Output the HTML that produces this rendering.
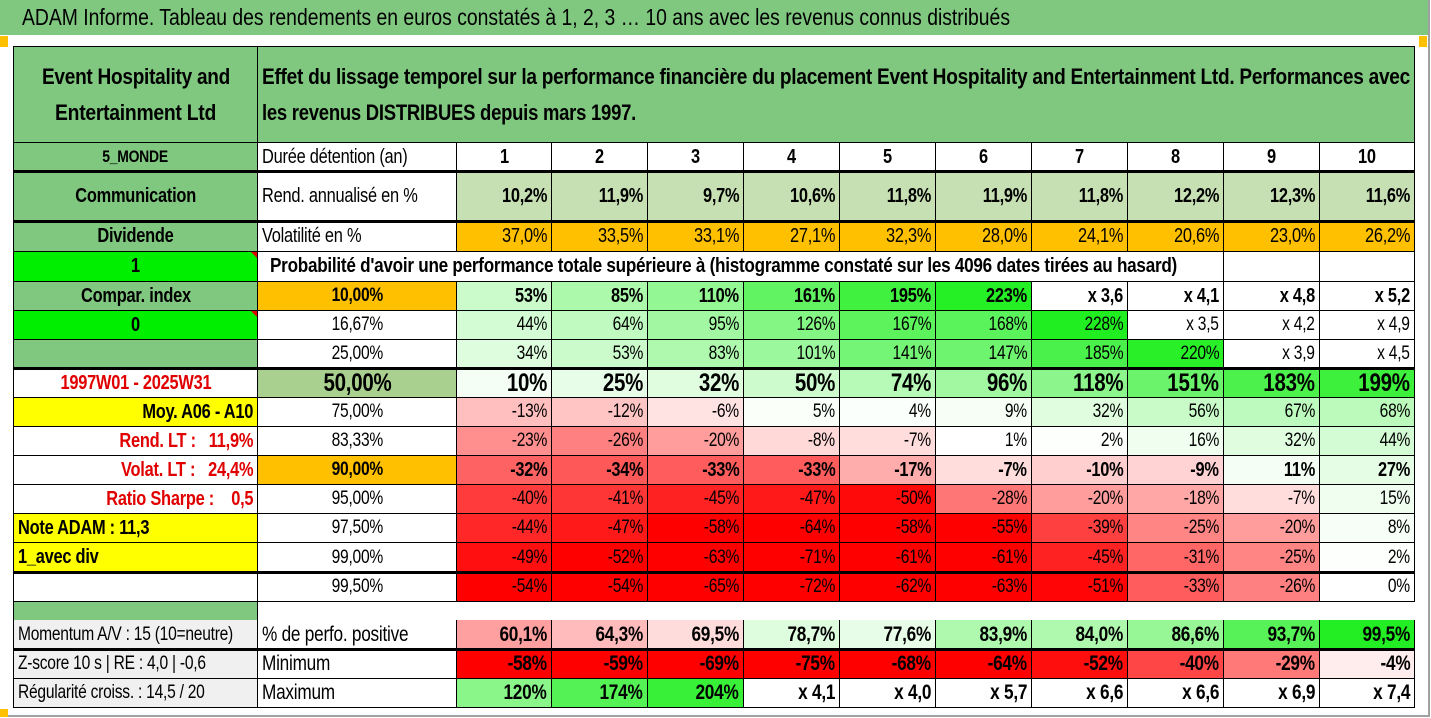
<!DOCTYPE html>
<html><head><meta charset="utf-8">
<style>
html,body{margin:0;padding:0}
body{width:1431px;height:718px;position:relative;overflow:hidden;background:#fff;font-family:"Liberation Sans",sans-serif;color:#000}
.c{position:absolute;box-sizing:border-box;border-right:1px solid #000;border-bottom:1px solid #000;display:flex;align-items:center;white-space:nowrap;overflow:hidden;font-size:18px;letter-spacing:-0.3px}
.r{justify-content:flex-end;padding-right:4px}
.m{justify-content:center}
.l{justify-content:flex-start;padding-left:4px}
.b{font-weight:bold}
.t{display:inline-block;white-space:pre;transform:scaleX(0.82)}
.r .t{transform-origin:right center}
.m .t{transform-origin:center center}
.l .t{transform-origin:left center}
.fit{display:inline-block;white-space:nowrap;transform-origin:left center}
.hl{position:absolute;background:#000}
</style></head>
<body>
<div style="position:absolute;left:0;top:0;width:1428px;height:715px;border-right:2px solid #a0a0a0;border-bottom:2px solid #a0a0a0"></div>
<div style="position:absolute;left:0;top:0;width:1428px;height:35px;background:#80c880;display:flex;align-items:center">
  <span class="fit" data-fit="988" style="margin-left:22px;font-size:23px">ADAM Informe. Tableau des rendements en euros constatés à 1, 2, 3 … 10 ans avec les revenus connus distribués</span>
</div>
<div style="position:absolute;left:0;top:36px;width:8px;height:11px;background:#ffc000"></div>
<div style="position:absolute;left:1419px;top:36px;width:8px;height:11px;background:#ffc000"></div>
<div style="position:absolute;left:0;top:709px;width:8px;height:8px;background:#ffc000"></div>

<div id="tbl"></div>

<script>
const durations = ["1","2","3","4","5","6","7","8","9","10"];
const rendAnn = ["10,2%","11,9%","9,7%","10,6%","11,8%","11,9%","11,8%","12,2%","12,3%","11,6%"];
const volat = ["37,0%","33,5%","33,1%","27,1%","32,3%","28,0%","24,1%","20,6%","23,0%","26,2%"];
const pctLabels = ["10,00%","16,67%","25,00%","50,00%","75,00%","83,33%","90,00%","95,00%","97,50%","99,00%","99,50%"];
const p10 = ["53%","85%","110%","161%","195%","223%","x 3,6","x 4,1","x 4,8","x 5,2"];
const p17 = ["44%","64%","95%","126%","167%","168%","228%","x 3,5","x 4,2","x 4,9"];
const p25 = ["34%","53%","83%","101%","141%","147%","185%","220%","x 3,9","x 4,5"];
const p50 = ["10%","25%","32%","50%","74%","96%","118%","151%","183%","199%"];
const p75 = ["-13%","-12%","-6%","5%","4%","9%","32%","56%","67%","68%"];
const p83 = ["-23%","-26%","-20%","-8%","-7%","1%","2%","16%","32%","44%"];
const p90 = ["-32%","-34%","-33%","-33%","-17%","-7%","-10%","-9%","11%","27%"];
const p95 = ["-40%","-41%","-45%","-47%","-50%","-28%","-20%","-18%","-7%","15%"];
const p975 = ["-44%","-47%","-58%","-64%","-58%","-55%","-39%","-25%","-20%","8%"];
const p99 = ["-49%","-52%","-63%","-71%","-61%","-61%","-45%","-31%","-25%","2%"];
const p995 = ["-54%","-54%","-65%","-72%","-62%","-63%","-51%","-33%","-26%","0%"];
const momentum = ["60,1%","64,3%","69,5%","78,7%","77,6%","83,9%","84,0%","86,6%","93,7%","99,5%"];
const minimum = ["-58%","-59%","-69%","-75%","-68%","-64%","-52%","-40%","-29%","-4%"];
const maximum = ["120%","174%","204%","x 4,1","x 4,0","x 5,7","x 6,6","x 6,6","x 6,9","x 7,4"];

const X = [14,258,457,552,648,744,840,936,1032,1128,1224,1320,1415];
const Y = [47,143,172,222,252,282,311,340,369,398,427,456,485,514,543,573,602,620,650,679,708];
const GREEN = "#80c880";
const T = document.getElementById('tbl');

function num(s){ if(s.indexOf('x')===0) return null; return parseFloat(s.replace('%','').replace(',','.')); }
function heat(v, redScale, greenScale){
  if(v===null) return "#ffffff";
  if(v>=0){ const t=Math.min(v/greenScale,1); const r=Math.round(255-225*t), g=Math.round(255-17*t); return `rgb(${r},${g},${r})`; }
  const t=Math.min(-v/redScale,1); const g=Math.round(255-255*t); return `rgb(255,${g},${g})`;
}
function cell(x0,x1,r0,r1,text,cls,bg,style,name){
  const d=document.createElement('div');
  d.className='c '+(cls||'');
  d.style.left=X[x0]+'px'; d.style.width=(X[x1]-X[x0])+'px';
  d.style.top=Y[r0]+'px'; d.style.height=(Y[r1]-Y[r0])+'px';
  if(bg) d.style.background=bg;
  if(style) d.style.cssText+=style;
  if(text){ const s=document.createElement('span'); s.className='t'; s.textContent=text; d.appendChild(s); }
  
  
  T.appendChild(d); return d;
}
const ob=document.createElement('div');
ob.style.cssText=`position:absolute;left:${X[0]-1}px;top:${Y[0]-1}px;width:${X[12]-X[0]+1}px;height:${Y[20]-Y[0]+1}px;border-left:1px solid #000;border-top:1px solid #000;box-sizing:border-box`;


T.appendChild(ob);

const h1=cell(0,1,0,1,'','m b',GREEN,'flex-direction:column;font-size:22px','company-name');
h1.innerHTML='<span class="fit" data-fit="188">Event Hospitality and</span><span class="fit" data-fit="161" style="margin-top:10px">Entertainment Ltd</span>';
const h2=cell(1,12,0,1,'','l b',GREEN,'flex-direction:column;align-items:flex-start;justify-content:center;font-size:22px','chart-description');
h2.innerHTML='<span class="fit" data-fit="1148">Effet du lissage temporel sur la performance financière du placement Event Hospitality and Entertainment Ltd. Performances avec</span><span class="fit" data-fit="374" style="margin-top:10px">les revenus DISTRIBUES depuis mars 1997.</span>';

const left=[
 ["5_MONDE","m b",GREEN,"font-size:17px","region-label"],
 ["Communication","m b",GREEN,"font-size:20px","sector-label"],
 ["Dividende","m b",GREEN,"font-size:20px","dividend-label"],
 ["1","m b","#00ee00","font-size:20px","dividend-flag"],
 ["Compar. index","m b",GREEN,"font-size:20px","compare-index-label"],
 ["0","m b","#00ee00","font-size:20px","compare-index-flag"],
 ["","m",GREEN,"","blank-label"],
 ["1997W01 - 2025W31","m b","#fff","color:#e00000;font-size:20px","date-range"],
 ["Moy. A06 - A10","r b","#ffff00","font-size:20px","average-label"],
 ["Rend. LT :   11,9%","r b","#fff","color:#e00000;font-size:20px","long-term-return"],
 ["Volat. LT :   24,4%","r b","#fff","color:#e00000;font-size:20px","long-term-volatility"],
 ["Ratio Sharpe :    0,5","r b","#fff","color:#e00000;font-size:20px","sharpe-ratio"],
 ["Note ADAM : 11,3","l b","#ffff00","font-size:20px","adam-score"],
 ["1_avec div","l b","#ffff00","font-size:20px","dividend-mode"],
 ["","m","#fff","","blank-label"]
];
left.forEach((a,i)=>cell(0,1,i+1,i+2,a[0],a[1],a[2],a[3],a[4]));
cell(0,1,16,17,"","m",GREEN,"border-bottom:none","spacer-label");
const spc=document.createElement('div');
spc.style.cssText=`position:absolute;left:${X[1]}px;top:${Y[16]}px;width:${X[12]-X[1]}px;height:${Y[17]-Y[16]}px;background:#fff`;


T.appendChild(spc);
cell(0,1,17,18,"Momentum A/V : 15 (10=neutre)","l","#f0f0f0","font-size:19px","momentum-label");
cell(0,1,18,19,"Z-score 10 s | RE : 4,0 | -0,6","l","#f0f0f0","font-size:19px","zscore-label");
cell(0,1,19,20,"Régularité croiss. : 14,5 / 20","l","#f0f0f0","font-size:19px","regularity-label");

cell(1,2,1,2,"Durée détention (an)","l","#fff","font-size:20px","duration-header");
cell(1,2,2,3,"Rend. annualisé en %","l","#fff","font-size:20px","return-label");
cell(1,2,3,4,"Volatilité en %","l","#fff","font-size:20px","volatility-label");
const pr=cell(1,10,4,5,"","l b","#fff","font-size:20px","probability-caption");
pr.innerHTML='<span class="fit" data-fit="907" style="margin-left:8px">Probabilité d\'avoir une performance totale supérieure à (histogramme constaté sur les 4096 dates tirées au hasard)</span>';
cell(10,11,4,5,"","","#fff","","blank-cell");
cell(11,12,4,5,"","","#fff","","blank-cell");
cell(1,2,17,18,"% de perfo. positive","l","#fff","font-size:21px","positive-perf-label");
cell(1,2,18,19,"Minimum","l","#fff","font-size:21px","minimum-label");
cell(1,2,19,20,"Maximum","l","#fff","font-size:21px","maximum-label");

durations.forEach((d,i)=>cell(i+2,i+3,1,2,d,"m b","#fff","font-size:20px","duration-"+d));
rendAnn.forEach((v,i)=>cell(i+2,i+3,2,3,v,"r b","#c6e0b4","font-size:20px","return-year-"+durations[i]));
volat.forEach((v,i)=>cell(i+2,i+3,3,4,v,"r","#ffc000","font-size:20px","volatility-year-"+durations[i]));

const rows=[p10,p17,p25,p50,p75,p83,p90,p95,p975,p99,p995];
rows.forEach((row,ri)=>{
  const r=ri+5;
  const lbl=pctLabels[ri];
  let lbg="#fff", lst="font-size:19px", lcls="m";
  if(ri===0||ri===6){lbg="#ffc000";lcls="m b";}
  if(ri===3){lbg="#a9d08e";lcls="m b";lst="font-size:25px";}
  cell(1,2,r,r+1,lbl,lcls,lbg,lst,"percentile-"+lbl);
  const bold=(ri===0||ri===3||ri===6);
  row.forEach((v,ci)=>{
    const bg=heat(num(v),52,230);
    cell(ci+2,ci+3,r,r+1,v,"r"+(bold?" b":""),bg,ri===3?"font-size:25px":(bold?"font-size:20px":"font-size:19px"),"value-p"+ri+"-year-"+durations[ci]);
  });
});
momentum.forEach((v,i)=>cell(i+2,i+3,17,18,v,"r b",heat(num(v)-75,40,25),"font-size:21px","positive-perf-year-"+durations[i]));
minimum.forEach((v,i)=>cell(i+2,i+3,18,19,v,"r b",heat(num(v),55,230),"font-size:21px","minimum-year-"+durations[i]));
maximum.forEach((v,i)=>cell(i+2,i+3,19,20,v,"r b",heat(num(v),55,230),"font-size:21px","maximum-year-"+durations[i]));

[2,3,8,15,18].forEach(ri=>{
  const l=document.createElement('div');
  l.className='hl';
  l.style.cssText+=`left:${X[0]-1}px;top:${Y[ri]-2}px;width:${X[12]-X[0]+1}px;height:3px`;
  
  
  T.appendChild(l);
});
[4,6].forEach(ri=>{
  const m=document.createElement('div');
  m.style.cssText=`position:absolute;left:${X[1]-7}px;top:${Y[ri]}px;width:0;height:0;border-top:6px solid #e00000;border-left:6px solid transparent`;
  
  
  T.appendChild(m);
});
document.querySelectorAll('.fit').forEach(s=>{
  const t=parseFloat(s.getAttribute('data-fit'));
  const w=s.getBoundingClientRect().width;
  if(w>0){ s.style.transform=`scaleX(${t/w})`; s.style.width=w+'px'; s.style.marginRight=(t-w)+'px'; }
});
</script>
</body></html>
